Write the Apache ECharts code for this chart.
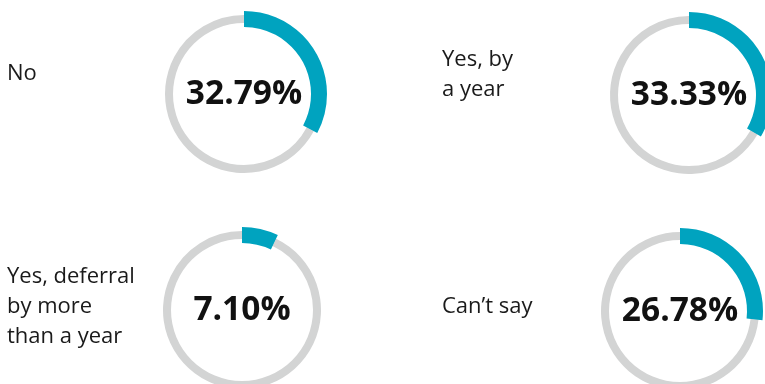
<!DOCTYPE html>
<html>
<head>
<meta charset="utf-8">
<script src="https://cdn.jsdelivr.net/npm/echarts@6/dist/echarts.min.js"></script>
<style>html,body{margin:0;padding:0;background:#fff;}#c{width:765px;height:384px;}</style>
</head>
<body>
<div id="c"></div>
<script>
var categories = ['No', 'Yes, by\na year', 'Yes, deferral\nby more\nthan a year', 'Can\u2019t say'];
var values = [32.79, 33.33, 7.10, 26.78];

// layout (positions only)
var centers = [[244, 94], [689, 95], [242, 310], [680, 311]];
var labelPos = [[7, 74], [442, 75], [7, 307], [442, 307]];

var BLUE = '#00a3bf', GRAY = '#d3d4d4';
var series = [];
var graphics = [];
values.forEach(function (v, i) {
  series.push({
    type: 'pie', center: centers[i], radius: [71, 79], silent: true,
    startAngle: 90, clockwise: true, label: { show: false }, labelLine: { show: false },
    itemStyle: { color: GRAY, borderWidth: 0 },
    data: [{ value: v }, { value: 100 - v }]
  });
  series.push({
    type: 'pie', center: centers[i], radius: [67, 83], silent: true, z: 3,
    startAngle: 90, clockwise: true, labelLine: { show: false },
    label: {
      show: true, position: 'center',
      formatter: function (p) { return p.value.toFixed(2) + '%'; },
      fontFamily: 'Open Sans', fontWeight: 'bold', fontSize: 33.5, color: '#111'
    },
    data: [
      { value: v, itemStyle: { color: BLUE } },
      { value: 100 - v, itemStyle: { color: 'rgba(0,0,0,0)' }, label: { show: false } }
    ]
  });
  graphics.push({
    type: 'text', x: labelPos[i][0], y: labelPos[i][1],
    style: {
      text: categories[i], fontFamily: 'Open Sans', fontSize: 22, lineHeight: 30,
      fill: '#1a1a1a', verticalAlign: 'middle', align: 'left'
    }
  });
});

var chart = echarts.init(document.getElementById('c'), null, { renderer: 'canvas' });
chart.setOption({
  animation: false,
  backgroundColor: '#fff',
  series: series,
  graphic: graphics
});
</script>
</body>
</html>
